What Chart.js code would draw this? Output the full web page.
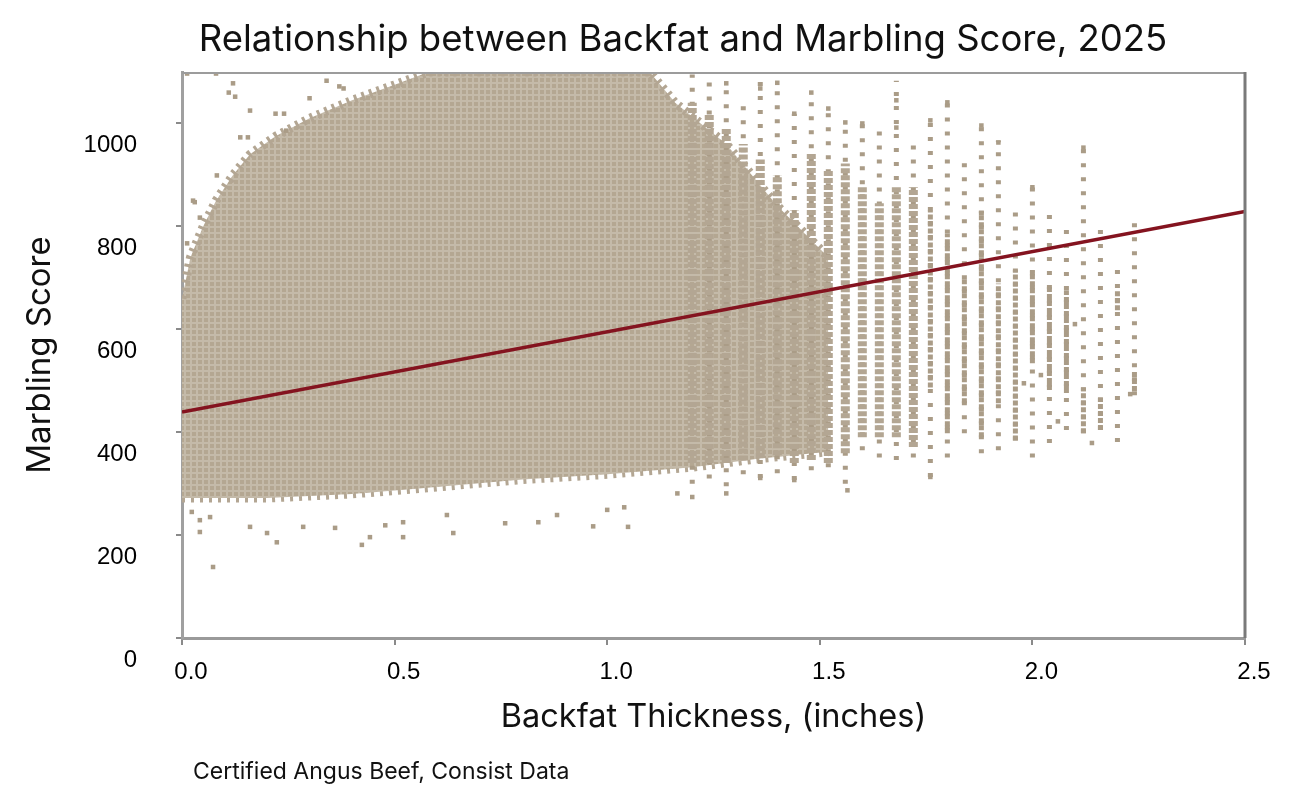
<!DOCTYPE html>
<html>
<head>
<meta charset="utf-8">
<title>Relationship between Backfat and Marbling Score, 2025</title>
<script src="https://cdn.jsdelivr.net/npm/chart.js@4.4.1/dist/chart.umd.min.js"></script>
<style>
  html, body { margin: 0; padding: 0; background: #fff; }
  #wrap { width: 1300px; height: 803px; position: relative; }
</style>
</head>
<body>
<div id="wrap"><canvas id="marblingChart"></canvas></div>
<script>
// Dense part of the cloud: upper and lower edge (backfat in, marbling score)
const cloudTopX = [0, 0.02, 0.05, 0.08, 0.12, 0.16, 0.22, 0.30, 0.40, 0.50, 0.58, 1.10, 1.16, 1.22, 1.28, 1.34, 1.40, 1.46, 1.52];
const cloudTopY = [660, 740, 800, 850, 900, 940, 975, 1010, 1045, 1075, 1100, 1100, 1040, 1000, 960, 900, 840, 790, 740];
const cloudBottomX = [0, 0.20, 0.40, 0.55, 0.80, 1.00, 1.20, 1.35, 1.52];
const cloudBottomY = [272, 272, 280, 290, 308, 318, 332, 348, 362];

// Thin vertical columns of points at high backfat values
const columnX    = [1.20, 1.24, 1.28, 1.32, 1.36, 1.40, 1.44, 1.48, 1.52, 1.56, 1.60, 1.64, 1.68, 1.72, 1.76, 1.80, 1.84, 1.88, 1.92, 1.96, 2.00, 2.04, 2.08, 2.12, 2.16, 2.20, 2.24];
const columnLow  = [300, 310, 295, 318, 311, 320, 307, 326, 332, 300, 365, 351, 346, 351, 313, 351, 398, 359, 365, 384, 351, 379, 404, 398, 404, 381, 472];
const columnHigh = [1095, 1085, 1078, 1050, 1083, 1079, 1019, 1060, 1029, 1006, 1000, 992, 1083, 961, 1006, 1041, 942, 1000, 967, 831, 876, 831, 812, 953, 796, 718, 817];
const coreLow    = [340, 340, 340, 345, 350, 355, 340, 346, 340, 359, 390, 390, 390, 371, 487, 398, 456, 390, 456, 384, 534, 482, 476, 398, 404, 637, 480];
const coreHigh   = [1040, 1020, 990, 960, 930, 900, 831, 942, 909, 922, 876, 845, 876, 876, 831, 786, 701, 831, 689, 715, 715, 682, 676, 487, 468, 676, 520];

// Isolated points around the cloud
const outlierX = [0.012, 0.08, 0.12, 0.11, 0.125, 0.16, 0.22, 0.24, 0.245, 0.137, 0.155, 0.082, 0.03, 0.042, 0.012, 0.30, 0.34, 0.37, 0.38, 0.026,
  0.023, 0.042, 0.042, 0.073, 0.066, 0.16, 0.20, 0.223, 0.285, 0.36, 0.423, 0.442, 0.478, 0.52, 0.52, 0.638, 0.623, 0.76, 0.838, 0.882, 0.967, 1.049, 1.0, 1.04, 1.165, 1.2, 1.28, 1.36, 1.44, 1.565, 1.76,
  1.80, 1.76, 1.88, 1.92, 1.68, 1.68, 1.60, 1.56, 1.52, 1.48, 1.44, 1.40, 1.36, 1.28, 2.12, 2.0, 2.10, 2.06, 1.98, 2.02, 2.23, 2.14];
const outlierY = [1097, 1097, 1078, 1060, 1052, 1025, 1019, 1019, 986, 973, 973, 899, 847, 817, 767, 1049, 1083, 1072, 1068, 850,
  245, 229, 206, 138, 235, 216, 204, 186, 216, 214, 181, 196, 219, 196, 225, 204, 239, 223, 225, 239, 217, 216, 249, 254, 281, 274, 281, 311, 307, 287, 313,
  1041, 1006, 996, 963, 1045, 992, 1000, 1002, 1029, 1060, 1019, 1079, 1068, 1078, 953, 876, 610, 421, 495, 511, 474, 379];

// Trend line
const trendX = [0, 2.5];
const trendY = [439, 829];

// Axis ticks
const xTickValues = [0, 0.5, 1.0, 1.5, 2.0, 2.5];
const yTickValues = [0, 200, 400, 600, 800, 1000];

const pairs = (xs, ys) => xs.map((x, i) => ({ x: x, y: ys[i] }));
const columns = (lows, highs) => {
  const out = [];
  columnX.forEach((x, i) => {
    out.push({ x: x, y: lows[i] }, { x: x, y: highs[i] }, { x: x, y: null });
  });
  return out;
};

const pointColor = '#aa9c87';
const edgeColor = '#b3a693';

// small tile so the cloud looks like packed markers
function cloudPattern() {
  const tile = document.createElement('canvas');
  tile.width = 6;
  tile.height = 6;
  const t = tile.getContext('2d');
  t.fillStyle = '#c4baa9';
  t.fillRect(0, 0, 6, 6);
  t.fillStyle = '#b4a792';
  t.fillRect(0, 0, 4, 4);
  return t.createPattern(tile, 'repeat');
}

// Title, caption and the top/right frame of the plot
const framePlugin = {
  id: 'framePlugin',
  afterDatasetsDraw(chart) {
    const { ctx, chartArea: a } = chart;
    ctx.save();
    ctx.strokeStyle = '#9c9c9c';
    ctx.lineWidth = 2;
    ctx.beginPath();
    ctx.moveTo(a.left, a.top + 1);
    ctx.lineTo(a.right, a.top + 1);
    ctx.stroke();
    ctx.strokeStyle = '#7a7a7a';
    ctx.lineWidth = 3;
    ctx.beginPath();
    ctx.moveTo(a.right, a.top);
    ctx.lineTo(a.right, a.bottom);
    ctx.stroke();
    ctx.restore();
  },
  afterDraw(chart) {
    const ctx = chart.ctx;
    ctx.save();
    ctx.fillStyle = '#111';
    ctx.textBaseline = 'middle';
    ctx.textAlign = 'center';
    ctx.font = '36.5px Inter';
    ctx.fillText('Relationship between Backfat and Marbling Score, 2025', 683, 40);
    ctx.textAlign = 'left';
    ctx.font = '23px Inter';
    ctx.fillText('Certified Angus Beef, Consist Data', 193, 772);
    ctx.restore();
  }
};

const ctx = document.getElementById('marblingChart').getContext('2d');
const fillPattern = cloudPattern();
new Chart(ctx, {
  type: 'line',
  data: {
    datasets: [
      {
        label: 'Trend',
        data: pairs(trendX, trendY),
        borderColor: '#84131f',
        borderWidth: 3.5,
        pointRadius: 0,
        fill: false
      },
      {
        label: 'Outliers',
        data: pairs(outlierX, outlierY),
        showLine: false,
        pointStyle: 'rect',
        pointRadius: 3.2,
        pointBorderWidth: 0,
        pointBackgroundColor: pointColor,
        fill: false
      },
      {
        label: 'Column cores',
        data: columns(coreLow, coreHigh),
        borderColor: pointColor,
        borderWidth: 5,
        borderDash: [5, 2],
        borderCapStyle: 'butt',
        segment: {
          borderWidth: c => (c.p0.parsed.x < 1.74 ? 9 : 5),
          borderColor: c => (c.p0.parsed.x < 1.74 ? edgeColor : pointColor)
        },
        pointRadius: 0,
        spanGaps: false,
        fill: false
      },
      {
        label: 'Columns',
        data: columns(columnLow, columnHigh),
        borderColor: pointColor,
        borderWidth: 5,
        borderDash: [4, 10],
        borderCapStyle: 'butt',
        pointRadius: 0,
        spanGaps: false,
        fill: false
      },
      {
        label: 'Cloud top',
        data: pairs(cloudTopX, cloudTopY),
        borderColor: edgeColor,
        borderWidth: 9,
        borderDash: [3, 5],
        borderCapStyle: 'butt',
        backgroundColor: fillPattern,
        pointRadius: 0,
        fill: '+1'
      },
      {
        label: 'Cloud bottom',
        data: pairs(cloudBottomX, cloudBottomY),
        borderColor: edgeColor,
        borderWidth: 9,
        borderDash: [3, 6],
        borderCapStyle: 'butt',
        pointRadius: 0,
        fill: false
      }
    ]
  },
  options: {
    responsive: true,
    maintainAspectRatio: false,
    animation: false,
    events: [],
    layout: { padding: { top: 72, right: 55, bottom: 66, left: 0 } },
    plugins: {
      legend: { display: false },
      tooltip: { enabled: false }
    },
    scales: {
      x: {
        type: 'linear',
        min: 0,
        max: 2.5,
        afterFit: s => { s.height = 99; },
        afterBuildTicks: s => { s.ticks = xTickValues.map(v => ({ value: v })); },
        ticks: {
          callback: v => v.toFixed(1),
          color: '#000',
          font: { family: 'Liberation Sans', size: 24 },
          padding: 13,
          labelOffset: 9,
          maxRotation: 0
        },
        grid: { drawOnChartArea: false, drawTicks: true, tickLength: 7, color: '#8a8a8a', lineWidth: 2 },
        border: { display: true, color: '#9a9a9a', width: 3 },
        title: {
          display: true,
          text: 'Backfat Thickness, (inches)',
          color: '#111',
          font: { family: 'Inter', size: 32.5 },
          padding: { top: 0, bottom: 0 }
        }
      },
      y: {
        type: 'linear',
        min: 0,
        max: 1100,
        afterFit: s => { s.width = 182; },
        afterBuildTicks: s => { s.ticks = yTickValues.map(v => ({ value: v })); },
        ticks: {
          callback: v => String(v),
          color: '#000',
          font: { family: 'Liberation Sans', size: 24 },
          padding: 39,
          labelOffset: 22
        },
        grid: { drawOnChartArea: false, drawTicks: true, tickLength: 6, color: '#8a8a8a', lineWidth: 2 },
        border: { display: true, color: '#a0a0a0', width: 3 },
        title: {
          display: true,
          text: 'Marbling Score',
          color: '#111',
          font: { family: 'Inter', size: 33 },
          padding: { top: 20, bottom: 0 }
        }
      }
    }
  },
  plugins: [framePlugin]
});
</script>
</body>
</html>
